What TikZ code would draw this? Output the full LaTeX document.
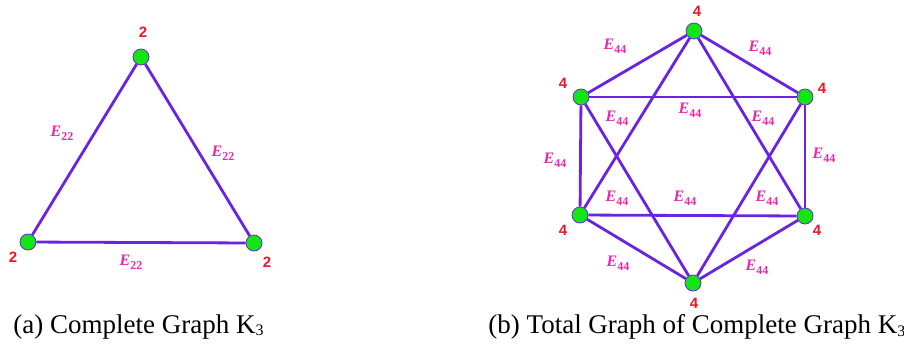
\documentclass[tikz,border=0pt]{standalone}
\usepackage{fontspec}
\setmainfont{Liberation Serif}
\newfontfamily\degfont{Liberation Sans}
\usepackage{tikz}
\usetikzlibrary{positioning,backgrounds}
\definecolor{edgeviolet}{RGB}{105,35,225}
\definecolor{vertgreen}{RGB}{20,230,20}
\definecolor{degred}{RGB}{240,20,40}
\definecolor{labmag}{RGB}{230,40,170}
\newcommand{\elabel}[1]{\textbf{\textit{E}}\raisebox{-0.5ex}{\fontsize{6}{6}\selectfont\bfseries #1}}

\begin{document}
\begin{tikzpicture}[
    x=0.5pt, y=-0.5pt,
    vertex/.style={circle, draw=edgeviolet, line width=0.4pt, fill=vertgreen,
                   minimum size=8pt, inner sep=0pt},
    deg/.style={text=degred, font=\degfont\bfseries\fontsize{7.5}{8}\selectfont, inner sep=0pt},
    elab/.style={text=labmag, font=\fontsize{8}{9}\selectfont, inner sep=0pt},
    edge/.style={draw=edgeviolet, line width=1.4pt},
    caption/.style={font=\fontsize{13.5}{16}\selectfont, inner sep=0pt, anchor=west}
]
\useasboundingbox (0,0) rectangle (904,345);

% (a) Complete graph K3
\node[vertex] (t1) at (141,57)  {};
\node[vertex] (t2) at (28,242)  {};
\node[vertex] (t3) at (254,243) {};

\node[deg] (dt1) at (143,32)  {2};
\node[deg] (dt2) at (13,257)  {2};
\node[deg] (dt3) at (267,262) {2};

\node[elab] (et12) at (62,133)  {\elabel{22}};
\node[elab] (et13) at (223,153) {\elabel{22}};
\node[elab] (et23) at (131,262) {\elabel{22}};

\begin{scope}[on background layer]
\draw[edge] (t1) -- (t2);
\draw[edge] (t1) -- (t3);
\draw[edge] (t2) -- (t3);
\end{scope}

% (b) Total graph of K3
\node[vertex] (h1) at (694,31)  {};
\node[vertex] (h2) at (581,97)  {};
\node[vertex] (h3) at (805,97)  {};
\node[vertex] (h4) at (580,215) {};
\node[vertex] (h5) at (805,216) {};
\node[vertex] (h6) at (693,283) {};

\node[deg] (dh1) at (697,11)  {4};
\node[deg] (dh2) at (563,83)  {4};
\node[deg] (dh3) at (822,88)  {4};
\node[deg] (dh4) at (563,230) {4};
\node[deg] (dh5) at (817,230) {4};
\node[deg] (dh6) at (694,303) {4};

\node[elab] (eh12) at (615,46)  {\elabel{44}};
\node[elab] (eh13) at (760,48)  {\elabel{44}};
\node[elab] (eh23) at (690,110) {\elabel{44}};
\node[elab] (eh26) at (617,118) {\elabel{44}};
\node[elab] (eh36) at (763,118) {\elabel{44}};
\node[elab] (eh24) at (555,160) {\elabel{44}};
\node[elab] (eh35) at (824,155) {\elabel{44}};
\node[elab] (eh14) at (617,198) {\elabel{44}};
\node[elab] (eh45) at (685,198) {\elabel{44}};
\node[elab] (eh15) at (767,198) {\elabel{44}};
\node[elab] (eh46) at (618,263) {\elabel{44}};
\node[elab] (eh56) at (757,267) {\elabel{44}};

\begin{scope}[on background layer]
\draw[edge] (h1) -- (h2);
\draw[edge] (h1) -- (h3);
\draw[edge] (h2) -- (h4);
\draw[edge] (h3) -- (h5);
\draw[edge] (h4) -- (h6);
\draw[edge] (h5) -- (h6);
\draw[edge] (h2) -- (h3);
\draw[edge] (h4) -- (h5);
\draw[edge] (h1) -- (h4);
\draw[edge] (h1) -- (h5);
\draw[edge] (h6) -- (h2);
\draw[edge] (h6) -- (h3);
\end{scope}

% Captions
\node[caption] (capa) at (13,327)  {(a) Complete Graph K\raisebox{-0.2ex}{\fontsize{8}{9}\selectfont 3}};
\node[caption] (capb) at (488,327) {(b) Total Graph of Complete Graph K\raisebox{-0.2ex}{\fontsize{8}{9}\selectfont 3}};

\end{tikzpicture}
\end{document}
